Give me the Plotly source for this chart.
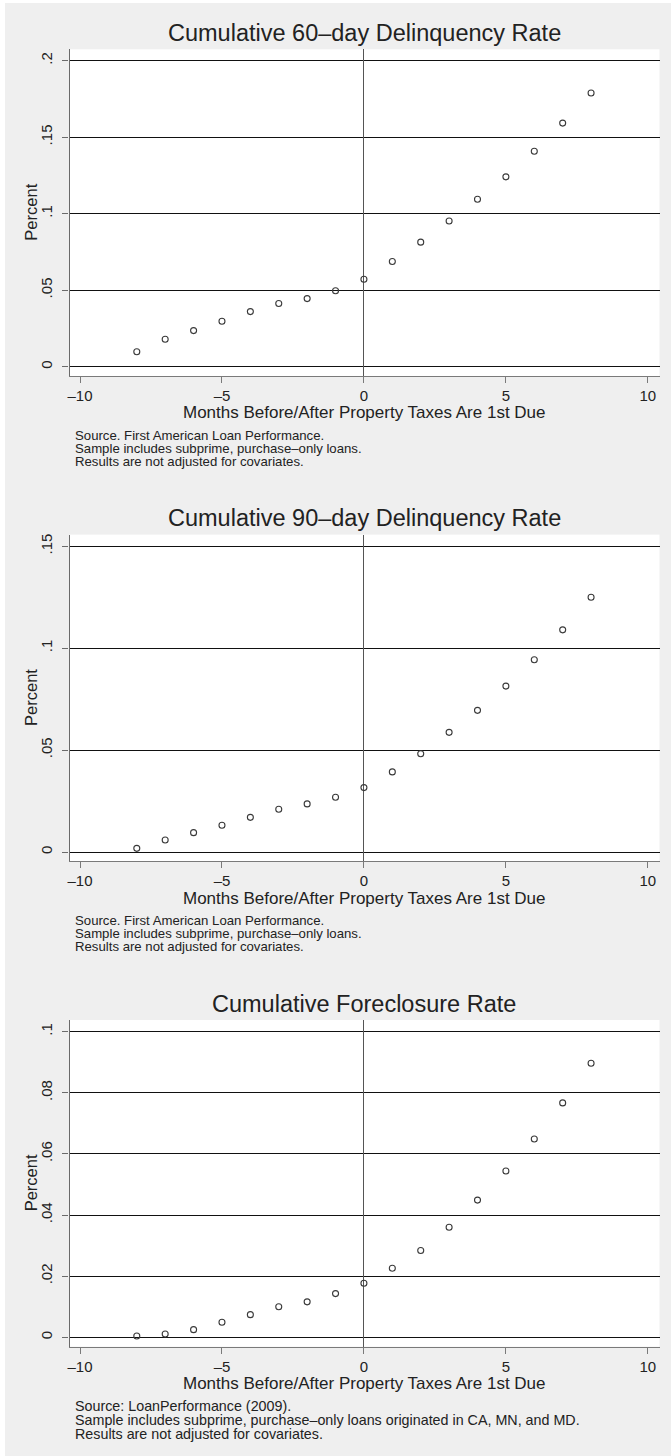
import plotly.graph_objects as go

# ---------------- data ----------------
months = [-8, -7, -6, -5, -4, -3, -2, -1, 0, 1, 2, 3, 4, 5, 6, 7, 8]
rate_60day = [0.0098, 0.0179, 0.0236, 0.0297, 0.0360, 0.0413, 0.0445, 0.0496, 0.0572,
              0.0688, 0.0814, 0.0952, 0.1094, 0.1241, 0.1408, 0.1592, 0.1789]
rate_90day = [0.0018, 0.0059, 0.0095, 0.0131, 0.0170, 0.0210, 0.0236, 0.0269, 0.0316,
              0.0393, 0.0482, 0.0587, 0.0695, 0.0814, 0.0943, 0.1090, 0.1250]
rate_foreclosure = [0.0004, 0.0011, 0.0025, 0.0049, 0.0074, 0.0100, 0.0116, 0.0143, 0.0177,
                    0.0226, 0.0284, 0.0360, 0.0449, 0.0544, 0.0649, 0.0767, 0.0897]

titles = ["Cumulative 60–day Delinquency Rate",
          "Cumulative 90–day Delinquency Rate",
          "Cumulative Foreclosure Rate"]
x_title = "Months Before/After Property Taxes Are 1st Due"
y_title = "Percent"

x_ticks = [-10, -5, 0, 5, 10]
x_tick_labels = ["–10", "–5", "0", "5", "10"]
y_ticks_60 = [0, 0.05, 0.10, 0.15, 0.20]
y_labels_60 = ["0", ".05", ".1", ".15", ".2"]
y_ticks_90 = [0, 0.05, 0.10, 0.15]
y_labels_90 = ["0", ".05", ".1", ".15"]
y_ticks_fc = [0, 0.02, 0.04, 0.06, 0.08, 0.10]
y_labels_fc = ["0", ".02", ".04", ".06", ".08", ".1"]

notes_fa = ["Source. First American Loan Performance.",
            "Sample includes subprime, purchase–only loans.",
            "Results are not adjusted for covariates."]
notes_lp = ["Source: LoanPerformance (2009).",
            "Sample includes subprime, purchase–only loans originated in CA, MN, and MD.",
            "Results are not adjusted for covariates."]

# ---------------- layout geometry (pixels) ----------------
W, H = 671, 1456
FONT = "Liberation Sans, Arial, Helvetica, sans-serif"
TXT = "#222222"

def fy(p):
    return 1 - p / H

x_left, x_right = 69.5, 659.5
x_dom = [x_left / W, x_right / W]
x_range = [-10.37, 10.41]

panels = [
    dict(y=rate_60day, ticks=y_ticks_60, labels=y_labels_60, top=49.3, bottom=376.0,
         rng=[-0.00608, 0.20745], title_y=33.0, xtitle_y=412.7,
         notes=notes_fa, notes_y=[435.0, 448.0, 461.0], notes_size=13.2),
    dict(y=rate_90day, ticks=y_ticks_90, labels=y_labels_90, top=534.6, bottom=861.3,
         rng=[-0.00456, 0.15574], title_y=518.3, xtitle_y=898.0,
         notes=notes_fa, notes_y=[920.3, 933.3, 946.3], notes_size=13.2),
    dict(y=rate_foreclosure, ticks=y_ticks_fc, labels=y_labels_fc, top=1020.0, bottom=1346.7,
         rng=[-0.00308, 0.10383], title_y=1003.5, xtitle_y=1383.3,
         notes=notes_lp, notes_y=[1405.5, 1419.5, 1433.5], notes_size=14.3),
]

fig = go.Figure()
annotations = []

for i, p in enumerate(panels):
    n = "" if i == 0 else str(i + 1)
    fig.add_trace(go.Scatter(
        x=months, y=p["y"], mode="markers",
        xaxis="x" + n, yaxis="y" + n,
        marker=dict(symbol="circle-open", size=6, color="#3a3a3a",
                    line=dict(width=1.1, color="#3a3a3a")),
        showlegend=False, hoverinfo="x+y"))

    fig.layout["xaxis" + n] = dict(
        domain=x_dom, range=x_range, anchor="y" + n,
        tickmode="array", tickvals=x_ticks, ticktext=x_tick_labels,
        showgrid=False, zeroline=True, zerolinecolor="#555555", zerolinewidth=1,
        showline=True, linecolor="#7a7a7a", linewidth=1.2,
        ticks="outside", ticklen=6, tickcolor="#7a7a7a", tickwidth=1,
        tickfont=dict(family=FONT, size=15, color=TXT),
        automargin=False, fixedrange=True)
    fig.layout["yaxis" + n] = dict(
        domain=[fy(p["bottom"]), fy(p["top"])], range=p["rng"], anchor="x" + n,
        tickmode="array", tickvals=p["ticks"], ticktext=p["labels"],
        showgrid=True, gridcolor="#111111", gridwidth=1, zeroline=False,
        showline=True, linecolor="#6a6a6a", linewidth=1.2,
        ticks="outside", ticklen=6, tickcolor="#6a6a6a", tickwidth=1,
        tickangle=-90, ticklabelstandoff=4,
        tickfont=dict(family=FONT, size=15, color=TXT),
        automargin=False, fixedrange=True)

    # panel title
    annotations.append(dict(
        text=titles[i], xref="paper", yref="paper",
        x=(x_left + x_right) / 2 / W, y=fy(p["title_y"]),
        xanchor="center", yanchor="middle", showarrow=False,
        font=dict(family=FONT, size=23.5, color=TXT)))
    # x axis title
    annotations.append(dict(
        text=x_title, xref="paper", yref="paper",
        x=(x_left + x_right) / 2 / W, y=fy(p["xtitle_y"]),
        xanchor="center", yanchor="middle", showarrow=False,
        font=dict(family=FONT, size=17, color=TXT)))
    # y axis title
    annotations.append(dict(
        text=y_title, xref="paper", yref="paper",
        x=31 / W, y=fy((p["top"] + p["bottom"]) / 2),
        xanchor="center", yanchor="middle", showarrow=False, textangle=-90,
        font=dict(family=FONT, size=16.5, color=TXT)))
    # notes
    for line, ly in zip(p["notes"], p["notes_y"]):
        annotations.append(dict(
            text=line, xref="paper", yref="paper",
            x=73 / W, y=fy(ly), xanchor="left", yanchor="middle", showarrow=False,
            font=dict(family=FONT, size=p["notes_size"], color=TXT)))

# thin white border on left and top edges of the image
shapes = [
    dict(type="rect", xref="paper", yref="paper", x0=0, x1=5 / W, y0=0, y1=1,
         fillcolor="white", line=dict(width=0), layer="above"),
    dict(type="rect", xref="paper", yref="paper", x0=0, x1=1, y0=fy(3), y1=1,
         fillcolor="white", line=dict(width=0), layer="above"),
]

fig.update_layout(
    width=W, height=H, margin=dict(l=0, r=0, t=0, b=0),
    paper_bgcolor="#efefef", plot_bgcolor="white",
    annotations=annotations, shapes=shapes,
    font=dict(family=FONT, color=TXT),
)

fig.write_html("out.html", config={"displayModeBar": False},
               post_script="document.body.style.margin='0';document.body.style.overflow='hidden';")
